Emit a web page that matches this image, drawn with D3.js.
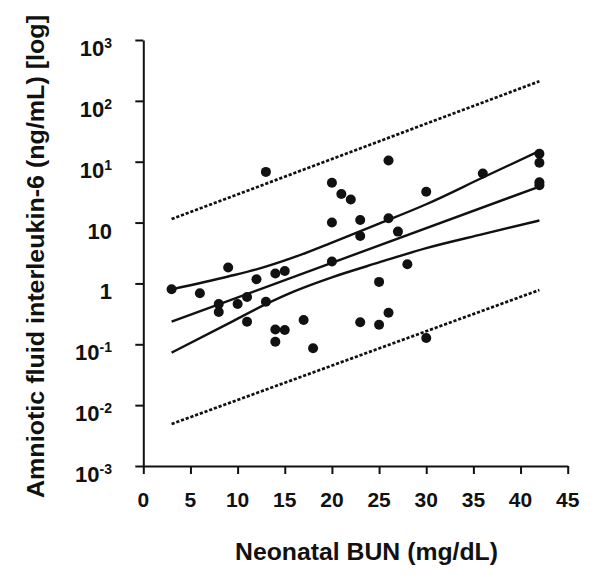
<!DOCTYPE html>
<html>
<head>
<meta charset="utf-8">
<script src="https://cdn.jsdelivr.net/npm/d3@7"></script>
<style>
  html, body { margin: 0; padding: 0; background: #fff; }
  svg { display: block; }
  text { font-family: "Liberation Sans", Arial, sans-serif; font-weight: bold; fill: #111; }
</style>
</head>
<body>
<svg id="chart" width="600" height="579"></svg>
<script>
// ---------- data ----------
const bunValues = [3, 6, 8, 8, 9, 10, 11, 11, 12, 13, 13, 14, 15, 14, 15, 14, 17, 18,
  20, 21, 22, 20, 20, 23, 23, 23, 25, 25, 26, 26, 26, 27, 28, 30, 30, 36, 42, 42, 42, 42];
const il6Values = [0.8, 0.69, 0.46, 0.34, 1.83, 0.46, 0.6, 0.235, 1.17, 0.5, 68, 1.46, 1.6, 0.175, 0.172, 0.11, 0.25, 0.086,
  45, 29.5, 24, 10, 2.3, 11, 6.0, 0.23, 1.06, 0.21, 105, 11.8, 0.33, 7.1, 2.07, 32, 0.127, 64, 135, 96, 46, 41];

const fitX = [3, 42];
const fitY = [0.235, 39];

const ciUpperX = [3, 9, 12, 16, 20, 25, 30, 36, 42];
const ciUpperY = [0.80, 1.30, 1.70, 2.70, 4.7, 9.6, 20, 55, 150];
const ciLowerX = [3, 9, 13, 16, 20, 25, 30, 36, 42];
const ciLowerY = [0.073, 0.219, 0.457, 0.741, 1.26, 2.21, 3.80, 6.46, 10.8];

const piUpperX = [3, 42];
const piUpperY = [11.4, 2100];
const piLowerX = [3, 42];
const piLowerY = [0.0049, 0.78];

const xTicks = [0, 5, 10, 15, 20, 25, 30, 35, 40, 45];
const yTickValues = [0.001, 0.01, 0.1, 1, 10, 100, 1000, 10000];
const yTickBase = ["10", "10", "10", "1", "10", "10", "10", "10"];
const yTickExp  = ["-3", "-2", "-1", "", "", "1", "2", "3"];

const xTitle = "Neonatal BUN (mg/dL)";
const yTitle = "Amniotic fluid interleukin-6 (ng/mL) [log]";

// ---------- layout ----------
const svg = d3.select("#chart");
const plotLeft = 143.3, plotRight = 567.7, plotTop = 40, plotBottom = 466;

const x = d3.scaleLinear().domain([0, 45]).range([plotLeft, plotRight]);
const y = d3.scaleLog().domain([0.001, 10000]).range([plotBottom, plotTop]);

// axes
const xAxis = svg.append("g")
  .attr("transform", `translate(0,${plotBottom})`)
  .call(d3.axisBottom(x).tickValues(xTicks).tickSize(8).tickSizeOuter(0).tickFormat(""));
const yAxis = svg.append("g")
  .attr("transform", `translate(${plotLeft},0)`)
  .call(d3.axisLeft(y).tickValues(yTickValues).tickSize(8).tickSizeOuter(0).tickFormat(""));

[xAxis, yAxis].forEach(g => {
  g.select(".domain").attr("stroke", "#111").attr("stroke-width", 2);
  g.selectAll(".tick line").attr("stroke", "#111").attr("stroke-width", 2);
});

// x tick labels
svg.append("g").selectAll("text").data(xTicks).join("text")
  .attr("x", d => x(d))
  .attr("y", plotBottom + 41)
  .attr("text-anchor", "middle")
  .attr("font-size", 21)
  .text(d => d);

// y tick labels (with superscripts)
yTickValues.forEach((v, i) => {
  const t = svg.append("text")
    .attr("x", 112)
    .attr("y", y(v) + 16)
    .attr("text-anchor", "end")
    .attr("font-size", 22);
  t.append("tspan").text(yTickBase[i]);
  if (yTickExp[i]) {
    t.append("tspan").attr("dy", -8).attr("font-size", 14).text(yTickExp[i]);
  }
});

// titles
svg.append("text")
  .attr("x", 366.5)
  .attr("y", 560)
  .attr("text-anchor", "middle")
  .attr("font-size", 24)
  .attr("textLength", 263)
  .attr("lengthAdjust", "spacingAndGlyphs")
  .text(xTitle);

svg.append("text")
  .attr("transform", "translate(44,256.5) rotate(-90)")
  .attr("text-anchor", "middle")
  .attr("font-size", 24)
  .attr("textLength", 483)
  .attr("lengthAdjust", "spacingAndGlyphs")
  .text(yTitle);

// lines
const lineGen = d3.line().x(d => x(d[0])).y(d => y(d[1]));
const curveGen = d3.line().x(d => x(d[0])).y(d => y(d[1])).curve(d3.curveMonotoneX);
const zip = (a, b) => a.map((v, i) => [v, b[i]]);

svg.append("path").datum(zip(piUpperX, piUpperY))
  .attr("d", lineGen).attr("fill", "none").attr("stroke", "#111")
  .attr("stroke-width", 2.7).attr("stroke-dasharray", "3.2,1.8");
svg.append("path").datum(zip(piLowerX, piLowerY))
  .attr("d", lineGen).attr("fill", "none").attr("stroke", "#111")
  .attr("stroke-width", 2.7).attr("stroke-dasharray", "3.2,1.8");

svg.append("path").datum(zip(ciUpperX, ciUpperY))
  .attr("d", curveGen).attr("fill", "none").attr("stroke", "#111").attr("stroke-width", 2.4);
svg.append("path").datum(zip(ciLowerX, ciLowerY))
  .attr("d", curveGen).attr("fill", "none").attr("stroke", "#111").attr("stroke-width", 2.4);
svg.append("path").datum(zip(fitX, fitY))
  .attr("d", lineGen).attr("fill", "none").attr("stroke", "#111").attr("stroke-width", 2.4);

// points
svg.append("g").selectAll("circle").data(zip(bunValues, il6Values)).join("circle")
  .attr("cx", d => x(d[0]))
  .attr("cy", d => y(d[1]))
  .attr("r", 5)
  .attr("fill", "#111");
</script>
</body>
</html>
